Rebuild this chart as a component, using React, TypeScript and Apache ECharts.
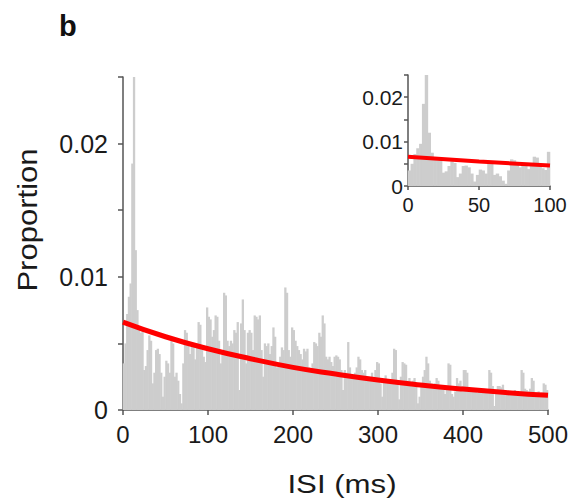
import React, { useEffect, useRef } from "react";
import * as echarts from "echarts";

// ISI histogram, 2 ms bins from 0 to 500 ms (proportion per bin)
const binWidthMs = 2;
const isiProportion: number[] = [
  0.0035, 0.005, 0.0072, 0.0085, 0.0095, 0.0185, 0.028, 0.012, 0.0075, 0.006,
  0.0058, 0.0062, 0.003, 0.0033, 0.0045, 0.0056, 0.0052, 0.002, 0.0028, 0.0045,
  0.0046, 0.0042, 0.0028, 0.001, 0.0025, 0.0037, 0.0035, 0.0028, 0.0052, 0.005,
  0.0025, 0.0028, 0.0022, 0.0012, 0.0005, 0.0035, 0.006, 0.0058, 0.005, 0.0042,
  0.005, 0.0048, 0.0038, 0.005, 0.0066, 0.0064, 0.0045, 0.004, 0.0036, 0.0077,
  0.007, 0.0068, 0.0055, 0.006, 0.0071, 0.007, 0.0052, 0.0035, 0.0045, 0.0088,
  0.0086, 0.0052, 0.0048, 0.0052, 0.005, 0.006, 0.0058, 0.0066, 0.0015, 0.0065,
  0.0083, 0.006, 0.0035, 0.0058, 0.006, 0.0058, 0.0045, 0.0071, 0.007, 0.0068,
  0.0071, 0.0045, 0.0025, 0.005, 0.0048, 0.005, 0.0042, 0.0048, 0.0062, 0.0055,
  0.0032, 0.0035, 0.004, 0.0047, 0.0045, 0.0092, 0.0088, 0.0045, 0.004, 0.0062,
  0.006, 0.0052, 0.0048, 0.0045, 0.0042, 0.0038, 0.0046, 0.0044, 0.0046, 0.0032,
  0.003, 0.0035, 0.0051, 0.005, 0.0048, 0.0058, 0.0055, 0.0071, 0.0065, 0.004,
  0.0038, 0.004, 0.0036, 0.0033, 0.004, 0.0041, 0.004, 0.0038, 0.003, 0.0015,
  0.003, 0.0028, 0.0051, 0.0032, 0.0025, 0.0026, 0.0028, 0.0032, 0.004, 0.0038,
  0.003, 0.0028, 0.003, 0.0025, 0.0025, 0.0024, 0.0028, 0.0022, 0.003, 0.0036,
  0.0035, 0.002, 0.001, 0.0022, 0.0026, 0.0022, 0.0022, 0.002, 0.0028, 0.0046,
  0.0045, 0.0022, 0.0008, 0.0025, 0.0036, 0.0035, 0.0034, 0.0022, 0.0024, 0.002,
  0.0022, 0.0024, 0.002, 0.0005, 0.001, 0.0018, 0.0025, 0.003, 0.004, 0.0035,
  0.0022, 0.002, 0.0019, 0.002, 0.0024, 0.0022, 0.0018, 0.0016, 0.0018, 0.0012,
  0.0015, 0.0035, 0.0034, 0.0012, 0.001, 0.0014, 0.0024, 0.002, 0.0022, 0.0018,
  0.003, 0.003, 0.0028, 0.0017, 0.0015, 0.0016, 0.0014, 0.0015, 0.0013, 0.0016,
  0.0015, 0.0014, 0.0016, 0.0013, 0.0015, 0.003, 0.0028, 0.0018, 0.0003, 0.0012,
  0.0018, 0.0018, 0.0017, 0.0019, 0.0013, 0.0012, 0.0014, 0.0013, 0.0012, 0.0014,
  0.0015, 0.0012, 0.0014, 0.0013, 0.003, 0.0028, 0.0016, 0.0015, 0.0014, 0.0016,
  0.0024, 0.0022, 0.0013, 0.0012, 0.0014, 0.0012, 0.0013, 0.002, 0.0019, 0.0015,
];

// Exponential fit
const fitIsi: number[] = [0, 50, 100, 150, 200, 250, 300, 350, 400, 450, 500];
const fitProportion: number[] = [
  0.0066, 0.0055, 0.0046, 0.00385, 0.0032, 0.0027, 0.00225, 0.00188, 0.00157,
  0.00131, 0.0011,
];

const mainXTicks = { min: 0, max: 500, interval: 100 };
const insetXTicks = { min: 0, max: 100, interval: 50 };
const yTicks = { min: 0, max: 0.025, interval: 0.005 };
const yLabelled: number[] = [0, 0.01, 0.02];

const FONT = "'Liberation Sans', Arial, Helvetica, sans-serif";
const AXIS_COLOR = "#555";
const TEXT_COLOR = "#1a1a1a";
const BAR_COLOR = "#cdcdcd";
const FIT_COLOR = "#ff0000";

export default function App() {
  const ref = useRef<HTMLDivElement>(null);

  useEffect(() => {
    if (!ref.current) return;
    const chart = echarts.init(ref.current, undefined, { renderer: "svg" });

    const bars = isiProportion.map((v, i) => [i * binWidthMs + binWidthMs / 2, v]);
    const insetBars = bars.filter((d) => d[0] <= insetXTicks.max);
    const fit = fitIsi.map((x, i) => [x, fitProportion[i]]);
    const insetFit = fit.filter((d) => d[0] <= insetXTicks.max);

    const yFormatter = (v: number) => {
      const hit = yLabelled.find((t) => Math.abs(t - v) < 1e-9);
      return hit === undefined ? "" : hit === 0 ? "0" : String(hit);
    };

    const xAxisBase = (fontSize: number, margin: number, tickLen: number) => ({
      type: "value" as const,
      axisLine: { show: true, onZero: false, lineStyle: { color: AXIS_COLOR, width: 1.5 } },
      axisTick: { show: true, inside: false, length: tickLen, lineStyle: { color: AXIS_COLOR, width: 1.5 } },
      axisLabel: { color: TEXT_COLOR, fontSize, fontFamily: FONT, margin, showMaxLabel: true, showMinLabel: true },
      splitLine: { show: false },
    });

    const yAxisBase = (fontSize: number, margin: number, tickLen: number) => ({
      type: "value" as const,
      ...yTicks,
      axisLine: { show: true, lineStyle: { color: AXIS_COLOR, width: 1.5 } },
      axisTick: { show: true, inside: false, length: tickLen, lineStyle: { color: AXIS_COLOR, width: 1.5 } },
      axisLabel: { color: TEXT_COLOR, fontSize, fontFamily: FONT, margin, formatter: yFormatter, showMaxLabel: true },
      splitLine: { show: false },
    });

    chart.setOption({
      animation: false,
      backgroundColor: "#ffffff",
      grid: [
        { left: 123, top: 77, width: 425, height: 333, containLabel: false },
        { left: 408, top: 75, width: 142, height: 111, containLabel: false },
      ],
      xAxis: [
        { gridIndex: 0, ...mainXTicks, ...xAxisBase(24, 12, 5) },
        { gridIndex: 1, ...insetXTicks, ...xAxisBase(20, 9, 4) },
      ],
      yAxis: [
        { gridIndex: 0, ...yAxisBase(25, 15, 5) },
        { gridIndex: 1, ...yAxisBase(21, 5, 4) },
      ],
      series: [
        {
          type: "bar",
          xAxisIndex: 0,
          yAxisIndex: 0,
          data: bars,
          barWidth: 2.3,
          itemStyle: { color: BAR_COLOR },
          clip: true,
          silent: true,
        },
        {
          type: "line",
          xAxisIndex: 0,
          yAxisIndex: 0,
          data: fit,
          smooth: true,
          showSymbol: false,
          symbol: "none",
          lineStyle: { color: FIT_COLOR, width: 5 },
          clip: true,
          z: 5,
        },
        {
          type: "bar",
          xAxisIndex: 1,
          yAxisIndex: 1,
          data: insetBars,
          barWidth: 3.4,
          itemStyle: { color: BAR_COLOR },
          clip: true,
          silent: true,
        },
        {
          type: "line",
          xAxisIndex: 1,
          yAxisIndex: 1,
          data: insetFit,
          smooth: true,
          showSymbol: false,
          symbol: "none",
          lineStyle: { color: FIT_COLOR, width: 4 },
          clip: true,
          z: 5,
        },
      ],
      graphic: [
        {
          type: "text",
          left: 59,
          top: 11,
          style: { text: "b", font: `bold 29px ${FONT}`, fill: "#111" },
        },
        {
          type: "text",
          x: 342,
          y: 484,
          scaleX: 1.2,
          style: {
            text: "ISI (ms)",
            font: `26px ${FONT}`,
            fill: TEXT_COLOR,
            align: "center",
            verticalAlign: "middle",
          },
        },
        {
          type: "text",
          x: 28,
          y: 220,
          rotation: Math.PI / 2,
          scaleX: 1.15,
          style: {
            text: "Proportion",
            font: `27px ${FONT}`,
            fill: TEXT_COLOR,
            align: "center",
            verticalAlign: "middle",
          },
        },
      ],
    });

    return () => chart.dispose();
  }, []);

  return (
    <div
      ref={ref}
      style={{ position: "fixed", left: 0, top: 0, width: 575, height: 499 }}
    />
  );
}
